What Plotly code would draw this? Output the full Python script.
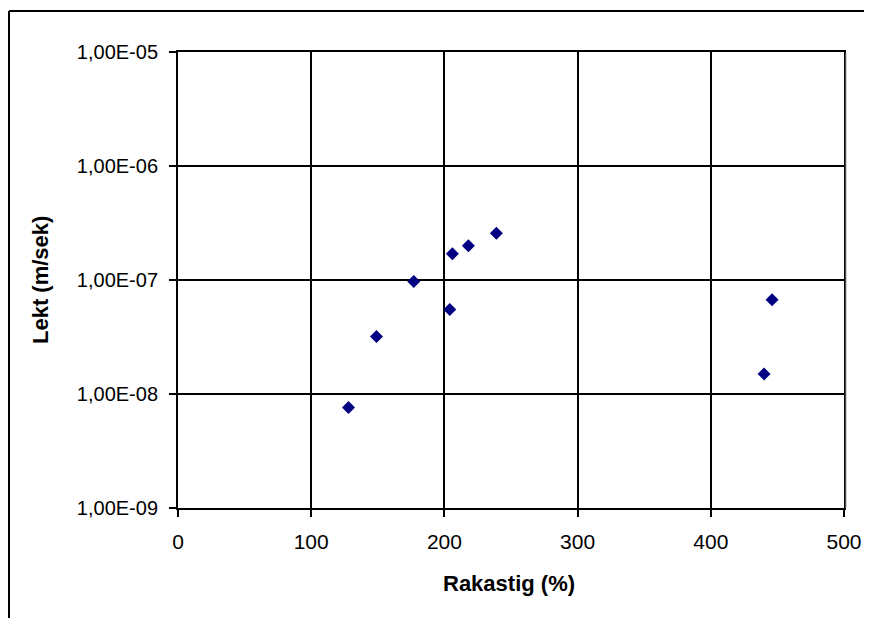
import plotly.graph_objects as go

rakastig = [128, 149, 177, 204, 206, 218, 239, 446, 440]
lekt = [7.6e-9, 3.2e-8, 9.7e-8, 5.5e-8, 1.7e-7, 2.0e-7, 2.57e-7, 6.7e-8, 1.5e-8]

x_ticks = [0, 100, 200, 300, 400, 500]
y_ticks = [1e-9, 1e-8, 1e-7, 1e-6, 1e-5]
y_tick_labels = ["1,00E-09", "1,00E-08", "1,00E-07", "1,00E-06", "1,00E-05"]

# page body has an 8px margin; work in screen coordinates and offset
OFF = 8
W, H = 872 - OFF, 618 - OFF
ml, mt = 178 - OFF, 52 - OFF
mr = 872 - 844
mb = 618 - 508
pw, ph = W - ml - mr, H - mt - mb

def px(xs):
    return (xs - OFF - ml) / pw

def py(ys):
    return (H - mb - (ys - OFF)) / ph

fig = go.Figure()
fig.add_trace(go.Scatter(
    x=rakastig, y=lekt, mode="markers",
    marker=dict(symbol="diamond", size=10, color="#000080",
                line=dict(width=0)),
    showlegend=False,
))

fam = "Liberation Sans, Arial, sans-serif"
font = dict(family=fam, size=20, color="black")
xfont = dict(family=fam, size=21, color="black")
tfont = dict(family=fam, size=22, color="black")

fig.update_layout(
    width=W, height=H,
    margin=dict(l=ml, r=mr, t=mt, b=mb, autoexpand=False),
    paper_bgcolor="white", plot_bgcolor="white",
    font=font,
    xaxis=dict(
        range=[0, 500], tickvals=x_ticks, ticks="outside", ticklen=7,
        tickwidth=2, tickcolor="black", showgrid=True, gridcolor="black",
        gridwidth=1.5, zeroline=False, showline=True, linecolor="black",
        linewidth=2, mirror=True, ticklabelstandoff=7,
        tickfont=xfont,
    ),
    yaxis=dict(
        type="log", range=[-9, -5], tickvals=y_ticks, ticktext=y_tick_labels,
        ticks="outside", ticklen=7, tickwidth=2, tickcolor="black",
        showgrid=True, gridcolor="black", gridwidth=1.5, zeroline=False,
        showline=True, linecolor="black", linewidth=2, mirror=True,
        ticklabelstandoff=7, tickfont=font,
    ),
    annotations=[
        dict(text="<b>Rakastig (%)</b>", x=px(509), y=py(583), xref="paper",
             yref="paper", showarrow=False, xanchor="center", yanchor="middle",
             font=tfont),
        dict(text="<b>Lekt (m/sek)</b>", x=px(40), y=py(280), xref="paper",
             yref="paper", showarrow=False, xanchor="center", yanchor="middle",
             textangle=-90, font=tfont),
    ],
    shapes=[
        dict(type="line", xref="paper", yref="paper", x0=px(9), y0=py(11),
             x1=px(1000), y1=py(11), line=dict(color="black", width=2),
             layer="above"),
        dict(type="line", xref="paper", yref="paper", x0=px(9), y0=py(11),
             x1=px(9), y1=py(700), line=dict(color="black", width=2),
             layer="above"),
        dict(type="line", xref="paper", yref="paper", x0=px(846), x1=px(846),
             y0=py(53), y1=py(508), line=dict(color="#a0a0a0", width=1)),
    ],
)

fig.write_html("out.html", post_script="document.body.style.overflow='hidden';")
